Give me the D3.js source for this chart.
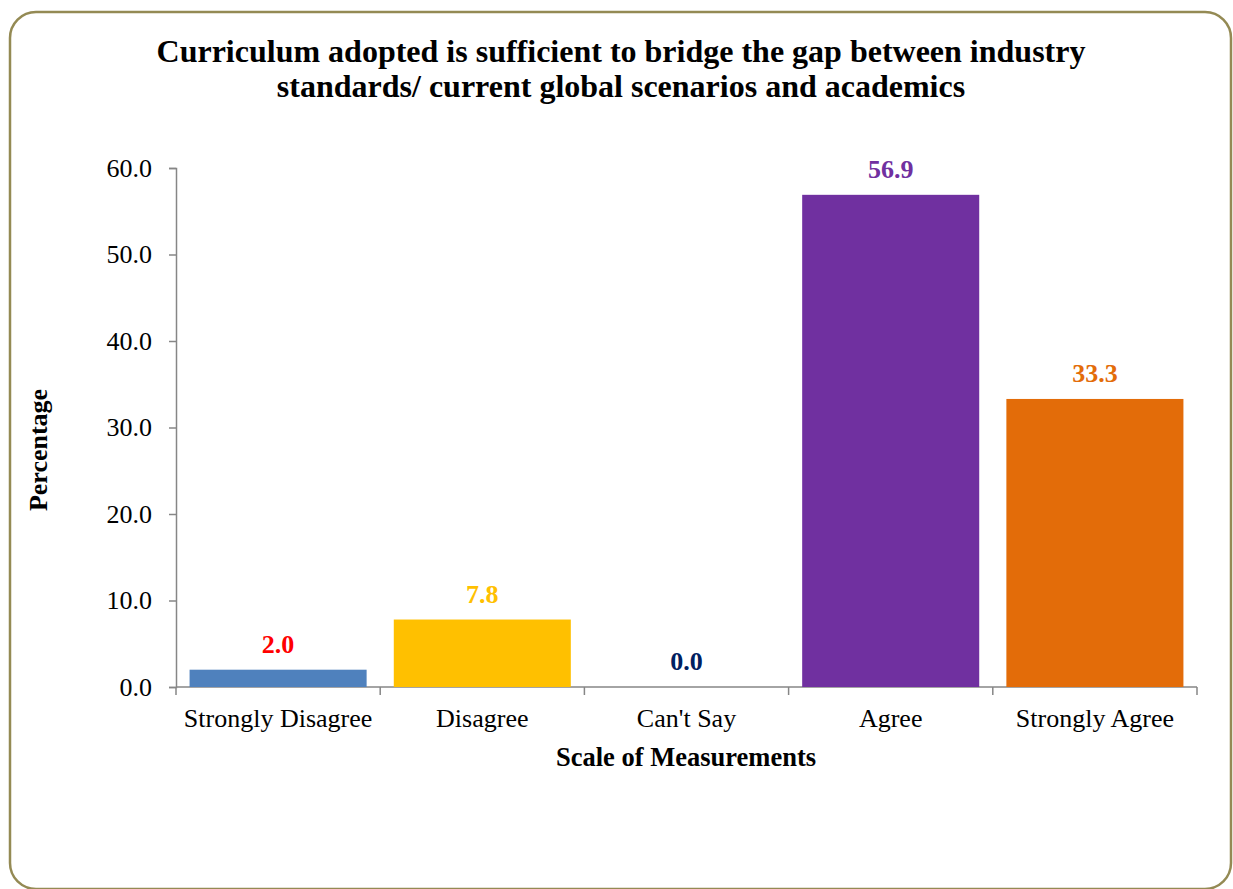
<!DOCTYPE html>
<html lang="en">
<head>
    <meta charset="UTF-8">
    <title>Curriculum adopted - bar chart</title>
    <script src="https://d3js.org/d3.v7.min.js"></script>
    <style>
        body { margin: 0; background: #fff; }
        svg { display: block; font-family: "Liberation Serif", "Times New Roman", serif; }
    </style>
</head>
<body>
<div id="chart"></div>
<script>
    // data
    const categories = ["Strongly Disagree", "Disagree", "Can't Say", "Agree", "Strongly Agree"];
    const values = [2.0, 7.8, 0.0, 56.9, 33.3];
    const barColors = ["#4F81BD", "#FFC000", "#A5A5A5", "#7030A0", "#E36C09"];
    const labelColors = ["#FF0000", "#FFC000", "#002060", "#7030A0", "#E36C09"];
    const yTicks = [0, 10, 20, 30, 40, 50, 60];
    const titleLines = ["Curriculum adopted is sufficient to bridge the gap between industry",
                        "standards/ current global scenarios and academics"];

    const width = 1233, height = 889;
    const plotLeft = 176, plotRight = 1197, plotTop = 168, plotBottom = 687;

    const svg = d3.select('#chart').append('svg')
        .attr('width', width)
        .attr('height', height);

    // rounded outer frame
    svg.append('rect')
        .attr('x', 10).attr('y', 12)
        .attr('width', 1221).attr('height', 877)
        .attr('rx', 26).attr('ry', 26)
        .attr('fill', '#fff')
        .attr('stroke', '#948A54')
        .attr('stroke-width', 2.5);

    svg.append('text')
        .attr('x', 621).attr('y', 62)
        .attr('text-anchor', 'middle')
        .attr('font-size', '32px')
        .attr('font-weight', 'bold')
        .selectAll('tspan')
        .data(titleLines)
        .enter().append('tspan')
        .attr('x', 621)
        .attr('dy', (d, i) => i === 0 ? 0 : 35)
        .text(d => d);

    const x = d3.scaleBand()
        .domain(categories)
        .range([plotLeft, plotRight])
        .paddingInner(0.133)
        .paddingOuter(0.0665);

    const y = d3.scaleLinear()
        .domain([0, 60])
        .range([plotBottom, plotTop]);

    // y axis
    const yAxis = svg.append('g')
        .attr('transform', `translate(${plotLeft},0)`)
        .call(d3.axisLeft(y).tickValues(yTicks).tickFormat(d3.format('.1f')).tickSize(7).tickPadding(17));
    yAxis.select('.domain').attr('stroke', '#868686').attr('stroke-width', 1.5);
    yAxis.selectAll('.tick line').attr('stroke', '#868686').attr('stroke-width', 1.5);
    yAxis.selectAll('.tick text')
        .attr('fill', '#000')
        .attr('font-size', '26px')
        .attr('font-family', '"Liberation Serif", "Times New Roman", serif');

    // x axis: ticks on band edges
    const edges = d3.range(categories.length + 1).map(i => plotLeft + i * (plotRight - plotLeft) / categories.length);
    const xg = svg.append('g');
    xg.append('line')
        .attr('x1', plotLeft).attr('x2', plotRight)
        .attr('y1', plotBottom).attr('y2', plotBottom)
        .attr('stroke', '#868686').attr('stroke-width', 1.5);
    xg.selectAll('line.edge')
        .data(edges)
        .enter().append('line')
        .attr('class', 'edge')
        .attr('x1', d => d).attr('x2', d => d)
        .attr('y1', plotBottom).attr('y2', plotBottom + 8)
        .attr('stroke', '#868686').attr('stroke-width', 1.5);
    xg.selectAll('text')
        .data(categories)
        .enter().append('text')
        .attr('x', d => x(d) + x.bandwidth() / 2)
        .attr('y', 727)
        .attr('text-anchor', 'middle')
        .attr('font-size', '26px')
        .text(d => d);

    // bars
    svg.append('g')
        .selectAll('rect')
        .data(categories)
        .enter().append('rect')
        .attr('x', d => x(d))
        .attr('y', (d, i) => y(values[i]))
        .attr('width', x.bandwidth())
        .attr('height', (d, i) => plotBottom - y(values[i]))
        .attr('fill', (d, i) => barColors[i]);

    // value labels
    svg.append('g')
        .selectAll('text')
        .data(categories)
        .enter().append('text')
        .attr('x', d => x(d) + x.bandwidth() / 2)
        .attr('y', (d, i) => y(values[i]) - 17)
        .attr('text-anchor', 'middle')
        .attr('font-size', '26px')
        .attr('font-weight', 'bold')
        .attr('fill', (d, i) => labelColors[i])
        .text((d, i) => values[i].toFixed(1));

    // axis titles
    svg.append('text')
        .attr('x', 686).attr('y', 766)
        .attr('text-anchor', 'middle')
        .attr('font-size', '26.5px')
        .attr('font-weight', 'bold')
        .text('Scale of Measurements');

    svg.append('text')
        .attr('transform', 'translate(47,450) rotate(-90)')
        .attr('text-anchor', 'middle')
        .attr('font-size', '26px')
        .attr('font-weight', 'bold')
        .text('Percentage');
</script>
</body>
</html>
